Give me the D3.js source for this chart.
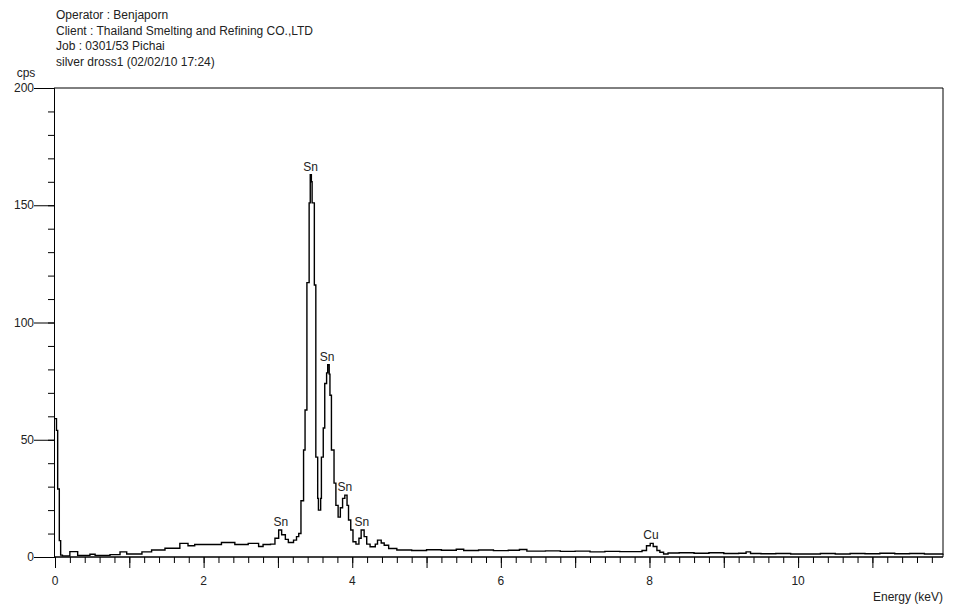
<!DOCTYPE html>
<html>
<head>
  <meta charset="utf-8">
  <title>silver dross1 EDS spectrum</title>
  <script src="https://d3js.org/d3.v7.min.js"></script>
  <style>
    body { margin: 0; background: #fff; }
    text { font-family: "Liberation Sans", Arial, sans-serif; font-size: 12px; fill: #222; }
  </style>
</head>
<body>
<svg width="954" height="610"></svg>
<script>
// --- header ---
const headerLines = [
  "Operator : Benjaporn",
  "Client : Thailand Smelting and Refining CO.,LTD",
  "Job : 0301/53 Pichai",
  "silver dross1 (02/02/10 17:24)"
];

// --- spectrum (keV, cps) ---
const energy = [
  0.00, 0.02, 0.036, 0.058, 0.076, 0.10, 0.20, 0.305, 0.47, 0.54, 0.74, 0.875, 0.965,
  1.17, 1.30, 1.48, 1.68, 1.79, 1.88, 2.24, 2.42, 2.60, 2.74, 2.80, 2.90, 2.96,
  3.01, 3.05, 3.10, 3.14, 3.21, 3.25, 3.28, 3.31, 3.345, 3.365, 3.39, 3.42, 3.435, 3.45,
  3.46, 3.49, 3.51, 3.535, 3.545, 3.575, 3.585, 3.61, 3.63, 3.655, 3.67, 3.69, 3.70,
  3.72, 3.755, 3.78, 3.81, 3.84, 3.87, 3.90, 3.93, 3.95, 3.98, 4.01, 4.05, 4.09,
  4.12, 4.16, 4.195, 4.24, 4.31, 4.34, 4.39, 4.43, 4.49,
  4.6, 4.8, 5.0, 5.2, 5.4, 5.5, 5.7, 5.9, 6.1, 6.25, 6.35, 6.6, 6.8, 7.0, 7.2,
  7.4, 7.6, 7.8, 7.9, 7.96, 8.01, 8.05, 8.10, 8.14, 8.19, 8.25, 8.4, 8.6, 8.8,
  9.0, 9.2, 9.3, 9.36, 9.5, 9.7, 9.9, 10.1, 10.3, 10.5, 10.7, 10.9, 11.1, 11.3,
  11.5, 11.7, 11.95
];
const cps = [
  59, 54, 29, 7, 0.8, 0.5, 2.3, 0.7, 1.2, 0.7, 1.0, 2.2, 1.3,
  2.2, 3.0, 3.7, 5.8, 4.8, 5.3, 6.2, 5.3, 5.8, 4.5, 5.3, 5.5, 8,
  11.5, 9.5, 7.5, 6.2, 7.2, 8.7, 10, 24, 45.6, 62.7, 117, 151, 163, 160,
  151, 116, 42.6, 25, 20, 25, 42.6, 55, 74, 78.5, 82, 78, 69,
  45.6, 31.5, 22, 17, 21, 25, 26.4, 22, 15.8, 11.5, 6.5, 5.5, 8,
  11.5, 8.7, 5.5, 4.4, 5.5, 7.2, 6, 5, 3.6,
  3.0, 2.8, 3.1, 2.9, 3.3, 2.8, 3.0, 2.7, 2.9, 3.2, 2.5, 2.6, 2.4, 2.5, 2.2,
  2.4, 2.3, 2.3, 2.8, 4.8, 5.8, 4.5, 2.8, 2.0, 1.3, 1.7, 1.8, 1.6, 1.8,
  1.5, 1.6, 2.2, 1.5, 1.4, 1.5, 1.3, 1.3, 1.5, 1.3, 1.5, 1.4, 1.6, 1.4,
  1.5, 1.3, 1.4
];

// peak labels
const peakNames = ["Sn", "Sn", "Sn", "Sn", "Sn", "Cu"];
const peakEnergy = [3.04, 3.44, 3.66, 3.90, 4.13, 8.02];
const peakHeight = [11.5, 163, 82, 26.4, 11.5, 5.8];

const xTicks = [0, 2, 4, 6, 8, 10];
const yTicks = [0, 50, 100, 150, 200];

const svg = d3.select("svg");
const margin = {left: 54, right: 11, top: 88, bottom: 53};
const W = 954, H = 610;

const x = d3.scaleLinear().domain([0, 11.95]).range([margin.left + 1, W - margin.right]);
const y = d3.scaleLinear().domain([0, 200]).range([H - margin.bottom, margin.top]);

// header text
svg.selectAll(".hdr").data(headerLines).join("text")
  .attr("class", "hdr")
  .attr("x", 56)
  .attr("y", (d, i) => 19 + i * 15.5)
  .text(d => d);

// frame (top + right)
svg.append("path")
  .attr("d", `M${margin.left},${y(200)}H${x(11.95)}V${y(0)}`)
  .attr("fill", "none").attr("stroke", "#000");

// spectrum
const pts = energy.map((e, i) => [e, cps[i]]);
svg.append("path")
  .datum(pts)
  .attr("fill", "none")
  .attr("stroke", "#000")
  .attr("stroke-width", 1.4)
  .attr("d", d3.line().x(d => x(d[0])).y(d => y(d[1])).curve(d3.curveStepAfter));

// x axis
const gx = svg.append("g").attr("transform", `translate(0,${y(0)})`);
gx.call(d3.axisBottom(x).tickValues(d3.range(0, 11.95, 0.2)).tickSize(6).tickFormat(""));
gx.append("g").call(d3.axisBottom(x).tickValues(d3.range(0, 12, 1)).tickSize(11).tickFormat(""));
gx.selectAll(".domain").attr("stroke", "#000").attr("d", `M${margin.left},0H${x(11.95)}`);
gx.selectAll("line").attr("stroke", "#000");
gx.selectAll(".xl").data(xTicks).join("text")
  .attr("class", "xl")
  .attr("x", d => x(d)).attr("y", 28)
  .attr("text-anchor", "middle")
  .text(d => d);

// y axis
const gy = svg.append("g").attr("transform", `translate(${margin.left},0)`);
gy.call(d3.axisLeft(y).tickValues(d3.range(0, 201, 10)).tickSize(6).tickFormat(""));
gy.append("g").call(d3.axisLeft(y).tickValues(yTicks).tickSize(20).tickFormat(""));
gy.selectAll(".domain").attr("stroke", "#000");
gy.selectAll("line").attr("stroke", "#000");
gy.selectAll(".yl").data(yTicks).join("text")
  .attr("class", "yl")
  .attr("x", -20).attr("y", d => y(d) + 4)
  .attr("text-anchor", "end")
  .text(d => d);

// axis titles
svg.append("text").attr("x", 26).attr("y", 77).attr("text-anchor", "middle").text("cps");
svg.append("text").attr("x", x(11.95)).attr("y", 601).attr("text-anchor", "end").text("Energy (keV)");

// peak labels
svg.selectAll(".pk").data(peakNames).join("text")
  .attr("class", "pk")
  .attr("x", (d, i) => x(peakEnergy[i]))
  .attr("y", (d, i) => y(peakHeight[i]) - 4)
  .attr("text-anchor", "middle")
  .text(d => d);
</script>
</body>
</html>
